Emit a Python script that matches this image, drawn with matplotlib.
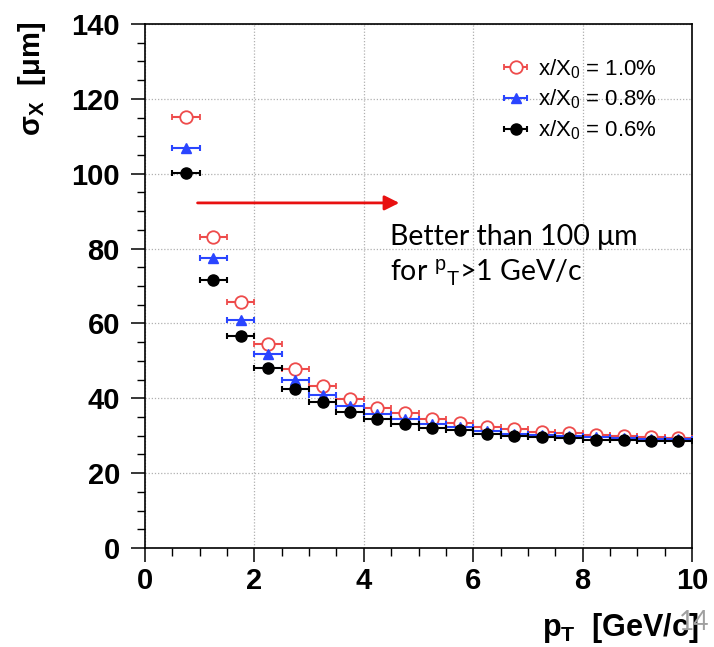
#!/usr/bin/env python3

### IMPORT
import matplotlib
matplotlib.use('Agg')
import matplotlib.pyplot as plt

### DATA
pt = [0.75, 1.25, 1.75, 2.25, 2.75, 3.25, 3.75, 4.25, 4.75, 5.25,
	5.75, 6.25, 6.75, 7.25, 7.75, 8.25, 8.75, 9.25, 9.75]
pt_err = 0.25
sigma_10 = [115.1, 83.1, 65.7, 54.6, 47.8, 43.4, 39.8, 37.4, 36.1, 34.5,
	33.4, 32.3, 31.8, 31.0, 30.7, 30.2, 29.9, 29.7, 29.4]
sigma_08 = [106.9, 77.5, 60.9, 51.8, 45.0, 40.8, 37.9, 35.8, 34.5, 33.1,
	32.3, 31.3, 30.5, 30.2, 29.9, 29.7, 29.4, 29.1, 29.1]
sigma_06 = [100.2, 71.6, 56.6, 48.1, 42.6, 38.9, 36.3, 34.5, 33.1, 32.1,
	31.5, 30.5, 29.9, 29.7, 29.4, 28.9, 28.9, 28.6, 28.6]
labels = [r'x/X$_0$ = 1.0%', r'x/X$_0$ = 0.8%', r'x/X$_0$ = 0.6%']
x_ticks = [0, 2, 4, 6, 8, 10]
y_ticks = [0, 20, 40, 60, 80, 100, 120, 140]

### STYLE
plt.rcParams['font.family'] = ['Liberation Sans', 'DejaVu Sans']
plt.rcParams['mathtext.fontset'] = 'custom'
plt.rcParams['mathtext.rm'] = 'Liberation Sans'
plt.rcParams['mathtext.it'] = 'Liberation Sans:italic'
plt.rcParams['mathtext.bf'] = 'Liberation Sans:bold'
red = '#ee4b4b'
blue = '#2a45ff'

### FIGURE
fig = plt.figure(figsize = (7.14, 6.47), dpi = 100)
ax = fig.add_axes([145 / 714, 1 - 548 / 647, 547 / 714, 524 / 647])

ax.errorbar(pt, sigma_10, xerr = pt_err, fmt = 'o', color = red, mfc = 'white',
	mec = red, mew = 1.3, ms = 9, elinewidth = 1.5, capsize = 2, capthick = 1.5,
	label = labels[0], zorder = 3)
ax.errorbar(pt, sigma_08, xerr = pt_err, fmt = '^', color = blue, ms = 7,
	elinewidth = 1.5, capsize = 2, capthick = 1.5, label = labels[1], zorder = 4)
ax.errorbar(pt, sigma_06, xerr = pt_err, fmt = 'o', color = 'black', ms = 8,
	elinewidth = 1.5, capsize = 2, capthick = 1.5, label = labels[2], zorder = 5)

### AXES
ax.set_xlim(0, 10)
ax.set_ylim(0, 140)
ax.set_xticks(x_ticks)
ax.set_yticks(y_ticks)
ax.set_xticks([v / 2 for v in range(21)], minor = True)
ax.set_yticks(list(range(0, 141, 5)), minor = True)
ax.tick_params(which = 'major', direction = 'out', length = 10, width = 1.1,
	labelsize = 21)
ax.tick_params(axis = 'x', which = 'major', pad = 4)
ax.tick_params(axis = 'y', which = 'major', pad = 8)
ax.tick_params(which = 'minor', direction = 'out', length = 5.5, width = 1.0)
for lab in ax.get_xticklabels() + ax.get_yticklabels():
	lab.set_fontweight('bold')
for s in ax.spines.values():
	s.set_linewidth(1.2)
ax.grid(True, which = 'major', color = '#b0b0b0', linestyle = (0, (1, 1.5)), linewidth = 0.9)

fig.text(32 / 714, 1 - 22 / 647, r'$\mathbf{\sigma_X}$  [μm]', rotation = 90,
	ha = 'center', va = 'top', fontsize = 21, fontweight = 'bold')
fig.text(699 / 714, 1 - 636 / 647, r'$\mathbf{p_T}$  [GeV/c]', ha = 'right',
	va = 'baseline', fontsize = 22, fontweight = 'bold')
# slide page number, sits over the axis title in the source too
fig.text(710 / 714, 1 - 630 / 647, '14', ha = 'right', va = 'baseline',
	fontsize = 19, color = '#a0a0a0', family = ['Lato', 'DejaVu Sans'])

### LEGEND
leg = ax.legend(loc = 'upper left', bbox_to_anchor = (500 / 714, 1 - 57 / 647),
	bbox_transform = fig.transFigure, frameon = False, fontsize = 16,
	handlelength = 1.4, handletextpad = 0.3, labelspacing = 0.32, borderpad = 0,
	borderaxespad = 0)

### ANNOTATION
ax.annotate('', xy = (4.7, 92.2), xytext = (0.91, 92.2),
	arrowprops = dict(arrowstyle = '-|>', color = '#e81010', lw = 2, mutation_scale = 22))
ax.text(390 / 714, 1 - 281 / 647, 'Better than 100 μm\nfor $^{\\mathrm{p}}$$_{\\mathrm{T}}$>1 GeV/c',
	transform = fig.transFigure, ha = 'left', va = 'baseline', fontsize = 20.5,
	linespacing = 1.3, family = ['Lato', 'DejaVu Sans'], zorder = 6)

### SAVE
fig.savefig('out.png', dpi = 100)
